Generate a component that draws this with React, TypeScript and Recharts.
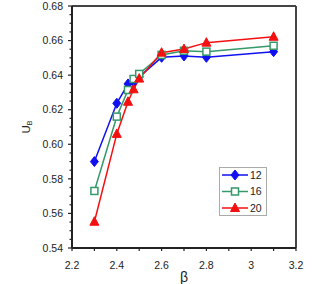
import { Legend, Line, LineChart, ReferenceLine, XAxis, YAxis } from 'recharts';

// beta values shared by the three series
const BETA = [2.3, 2.4, 2.45, 2.475, 2.5, 2.6, 2.7, 2.8, 3.1];
const U_12 = [0.59, 0.6237, 0.6349, 0.636, 0.639, 0.6503, 0.6511, 0.6503, 0.6536];
const U_16 = [0.573, 0.616, 0.6314, 0.6378, 0.6407, 0.6517, 0.6541, 0.6536, 0.657];
const U_20 = [0.5552, 0.606, 0.6246, 0.6318, 0.638, 0.653, 0.6551, 0.6588, 0.6622];

const X_TICKS = [2.2, 2.3, 2.4, 2.5, 2.6, 2.7, 2.8, 2.9, 3.0, 3.1, 3.2];
const X_LABELS = ['2.2', '', '2.4', '', '2.6', '', '2.8', '', '3', '', '3.2'];
const Y_MAJOR = [0.54, 0.56, 0.58, 0.6, 0.62, 0.64, 0.66, 0.68];

const SERIES = [
  { key: 'u12', name: '12', color: '#1010f0', values: U_12, shape: 'diamond' },
  { key: 'u16', name: '16', color: '#35996a', values: U_16, shape: 'square' },
  { key: 'u20', name: '20', color: '#f41010', values: U_20, shape: 'triangle' },
];

const data = BETA.map((b, i) => ({
  beta: b,
  u12: U_12[i],
  u16: U_16[i],
  u20: U_20[i],
}));

// major ticks every 0.02, minor every 0.005
const yTicks: number[] = [];
Y_MAJOR.forEach((v, i) => {
  yTicks.push(v);
  if (i < Y_MAJOR.length - 1) {
    for (let k = 1; k < 4; k++) yTicks.push(+(v + k * 0.005).toFixed(3));
  }
});

const FONT = '"Liberation Sans", Arial, sans-serif';
const AXIS = '#222';
const Y_GAP = 9;
const X_GAP = 14;

function Marker({ shape, cx, cy, color }: { shape: string; cx: number; cy: number; color: string }) {
  if (shape === 'diamond') {
    return <polygon points={`${cx},${cy - 5} ${cx + 4},${cy} ${cx},${cy + 5} ${cx - 4},${cy}`} fill={color} stroke={color} />;
  }
  if (shape === 'square') {
    return <rect x={cx - 3.5} y={cy - 3.5} width={7} height={7} fill="#fff" stroke={color} strokeWidth={1.5} />;
  }
  return <polygon points={`${cx},${cy - 5} ${cx + 4.5},${cy + 3.5} ${cx - 4.5},${cy + 3.5}`} fill={color} stroke={color} />;
}

function YTick(p: any) {
  const v = p.payload.value;
  const major = Math.abs(v * 50 - Math.round(v * 50)) < 1e-6;
  const ax = p.x + Y_GAP;
  return (
    <g>
      <line x1={ax - (major ? 4 : 2.5)} x2={ax} y1={p.y} y2={p.y} stroke={AXIS} strokeWidth={1.2} />
      {major && (
        <text x={p.x} y={p.y} dy="0.355em" textAnchor="end" fontSize={10.5} fill="#222" fontFamily={FONT}>
          {v.toFixed(2)}
        </text>
      )}
    </g>
  );
}

function XTick(p: any) {
  const idx = X_TICKS.findIndex((t) => Math.abs(t - p.payload.value) < 1e-6);
  const ay = p.y - X_GAP;
  return (
    <g>
      <line x1={p.x} x2={p.x} y1={ay} y2={ay + 3} stroke={AXIS} strokeWidth={1.2} />
      {X_LABELS[idx] && (
        <text x={p.x} y={p.y} dy="0.71em" textAnchor="middle" fontSize={10.5} fill="#222" fontFamily={FONT}>
          {X_LABELS[idx]}
        </text>
      )}
    </g>
  );
}

function LegendBox() {
  return (
    <svg width={48} height={49} style={{ display: 'block' }}>
      <rect x={0.5} y={0.5} width={47} height={48} fill="#fff" stroke="#aaa" />
      {SERIES.map((s, i) => {
        const y = 8 + i * 16.5;
        return (
          <g key={s.key}>
            <line x1={3} x2={29} y1={y} y2={y} stroke={s.color} strokeWidth={1.5} />
            <Marker shape={s.shape} cx={16} cy={y} color={s.color} />
            <text x={31} y={y} dy="0.355em" fontSize={10.5} fill="#222" fontFamily={FONT}>
              {s.name}
            </text>
          </g>
        );
      })}
    </svg>
  );
}

export default function App() {
  return (
    <div style={{ position: 'absolute', left: 0, top: 0 }}>
      <LineChart width={319} height={284} data={data} margin={{ top: 6, right: 23, left: 32, bottom: 0 }}>
        <XAxis
          dataKey="beta"
          type="number"
          domain={[2.2, 3.2]}
          ticks={X_TICKS}
          interval={0}
          tickSize={0}
          tickMargin={X_GAP}
          tick={<XTick />}
          tickLine={false}
          height={36}
          axisLine={{ stroke: AXIS, strokeWidth: 2 }}
          label={{ value: 'β', position: 'insideBottom', offset: 2, fontSize: 14, fill: '#222', fontFamily: FONT }}
        />
        <YAxis
          type="number"
          domain={[0.54, 0.68]}
          ticks={yTicks}
          interval={0}
          tickSize={0}
          tickMargin={Y_GAP}
          tick={<YTick />}
          tickLine={false}
          width={40}
          axisLine={{ stroke: AXIS, strokeWidth: 2 }}
          label={{
            content: () => (
              <text x={0} y={0} transform="translate(29.5,127) rotate(-90)" textAnchor="middle" fontSize={11.5} fill="#222" fontFamily={FONT}>
                U<tspan fontSize={7} dy={2}>B</tspan>
              </text>
            ),
          }}
        />
        <ReferenceLine y={0.68} stroke="#444" strokeWidth={2} />
        <ReferenceLine x={3.2} stroke="#444" strokeWidth={2} />
        {SERIES.map((s) => (
          <Line
            key={s.key}
            dataKey={s.key}
            name={s.name}
            type="linear"
            stroke={s.color}
            strokeWidth={1.5}
            isAnimationActive={false}
            dot={(p: any) => <Marker key={`${s.key}-${p.index}`} shape={s.shape} cx={p.cx} cy={p.cy} color={s.color} />}
          />
        ))}
        <Legend
          layout="vertical"
          align="center"
          verticalAlign="middle"
          content={<LegendBox />}
          wrapperStyle={{ position: 'absolute', left: 219, top: 167, width: 48 }}
        />
      </LineChart>
    </div>
  );
}
